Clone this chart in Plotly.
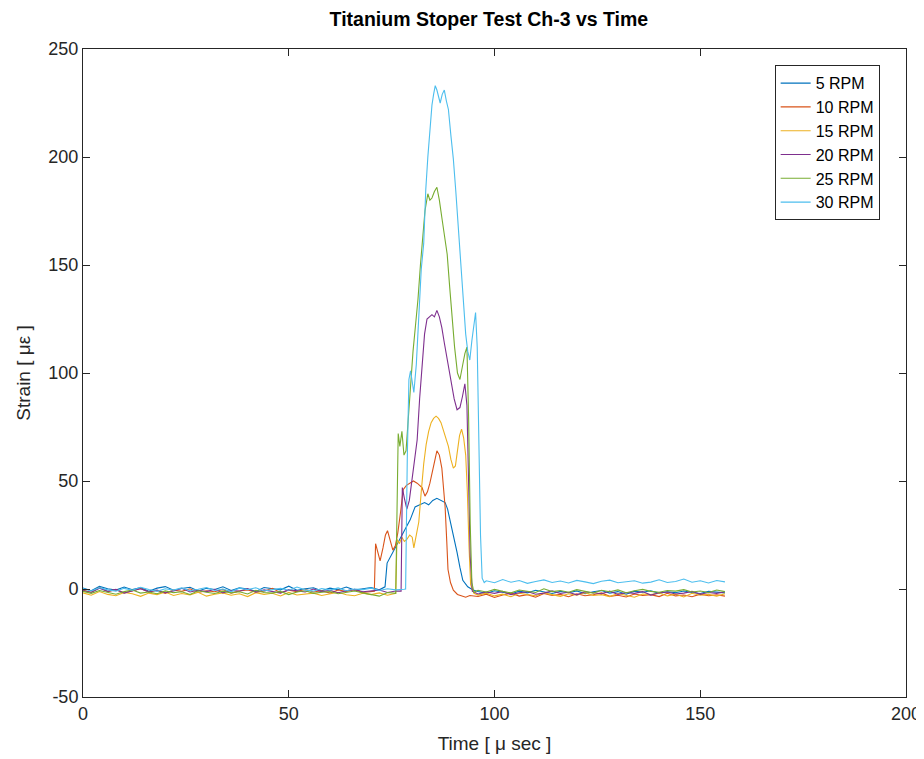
import plotly.graph_objects as go

# ---------------- data ----------------
series_names = ["5 RPM", "10 RPM", "15 RPM", "20 RPM", "25 RPM", "30 RPM"]
series_colors = ["#0072BD", "#D95319", "#EDB120", "#7E2F8E", "#77AC30", "#4DBEEE"]

step = 2.0

# 5 RPM
rpm5_pre = [0.5, -0.8, 1.2, 0.1, -0.5, 0.9, -0.3, 0.6, -1.0, 0.4, 1.1, -0.6, 0.2, 0.8, -0.9, 0.3,
            -0.2, 1.0, -0.7, 0.5, 0.0, -1.1, 0.7, 0.2, -0.4, 1.3, -0.6, 0.1, 0.6, -0.8, 0.4, -0.3,
            0.9, -0.5, 0.2, 0.7, -0.4]
rpm5_peak_t = [73.4, 73.9, 75.0, 76.5, 78.0, 79.5, 80.7, 82.0, 83.0, 84.0, 85.0, 86.0, 87.0, 88.0,
               88.6, 89.2, 90.0, 90.9, 91.6, 92.3, 93.5, 94.8]
rpm5_peak_v = [1, 12, 16, 21, 27, 32, 38, 39, 40, 39, 41, 42, 41, 40, 37, 32, 24, 17, 10, 4, 1, -0.5]
rpm5_post_start = 96
rpm5_post = [-1.2, -2.0, -0.8, -1.6, -2.3, -1.0, -1.8, -0.6, -1.4, -2.1, -1.1, -1.7, -0.9, -2.2,
             -1.3, -0.7, -1.9, -1.2, -2.4, -1.0, -1.5, -0.8, -2.0, -1.3, -1.7, -0.9, -1.6, -2.1,
             -1.1, -1.4, -1.8]

# 10 RPM
rpm10_pre = [-0.6, -1.5, 0.8, -1.2, -0.3, -1.8, -0.9, 0.2, -1.4, -0.7, -2.0, -0.5, -1.1, 0.1,
             -1.6, -0.8, -1.3, -0.2, -1.9, -0.9, -0.4, -1.5, -1.0, 0.3, -1.7, -0.6, -1.2, -0.1,
             -1.4, -0.8, -1.9, -0.5, -1.1, -0.3, -1.6, -1.0]
rpm10_peak_t = [70.8, 71.1, 71.7, 72.2, 72.9, 73.5, 74.0, 74.6, 75.3, 75.9, 76.5, 77.2, 77.8,
                78.6, 79.4, 80.3, 81.2, 82.4, 83.1, 83.7, 84.3, 85.0, 85.6, 86.0, 86.6, 87.2,
                87.6, 88.0, 88.4, 88.7, 89.3, 90.0, 91.0, 92.0, 93.0, 94.0]
rpm10_peak_v = [-1, 21, 16, 13, 19, 25, 27, 23, 18, 20, 26, 36, 46, 48, 49, 50, 49, 47, 43, 45,
                49, 55, 61, 64, 62, 56, 47, 38, 22, 9, 3, -0.5, -2.5, -3.2, -3.8, -3.0]
rpm10_post_start = 96
rpm10_post = [-3.5, -2.4, -3.9, -2.8, -1.9, -3.3, -2.6, -3.8, -2.1, -3.0, -2.5, -3.6, -2.2, -3.1,
              -2.7, -1.8, -3.4, -2.9, -3.7, -2.3, -3.0, -2.6, -3.5, -2.0, -3.2, -2.8, -3.6, -2.4,
              -3.1, -2.7, -3.3]

# 15 RPM
rpm15_pre = [-1.8, -2.9, -1.2, -2.5, -3.1, -1.6, -2.2, -3.4, -1.9, -2.6, -1.4, -3.0, -2.1, -2.7,
             -1.5, -3.3, -2.4, -1.8, -2.9, -2.2, -3.5, -1.7, -2.5, -2.0, -3.2, -1.6, -2.8, -2.3,
             -1.9, -3.0, -2.4, -1.5, -2.7, -3.1, -2.0, -2.6, -1.8, -2.9]
rpm15_peak_t = [76.0, 76.3, 76.9, 77.5, 78.1, 78.7, 79.4, 80.0, 80.4, 81.0, 81.6, 82.2, 82.8,
                83.4, 84.0, 84.6, 85.2, 85.8, 86.4, 87.0, 87.6, 88.2, 88.8, 89.4, 90.0, 90.5,
                91.0, 91.5, 92.0, 92.5, 93.0, 93.4, 93.8, 94.2, 95.0]
rpm15_peak_v = [-2, 23, 21, 24, 22, 23, 25, 24, 19, 25, 31, 45, 58, 67, 73, 77, 79, 80, 79, 77,
                73, 70, 66, 60, 56, 57, 63, 71, 74, 70, 62, 45, 20, 2, -2]
rpm15_post_start = 96
rpm15_post = [-2.8, -1.9, -3.2, -2.4, -3.6, -2.0, -2.7, -3.1, -1.8, -2.5, -3.4, -2.2, -2.9, -1.7,
              -3.0, -2.6, -3.5, -2.1, -2.8, -3.8, -2.3, -2.6, -1.9, -3.2, -2.4, -3.7, -2.0, -2.9,
              -2.5, -3.3, -2.2]

# 20 RPM
rpm20_pre = [-0.7, -1.6, 0.4, -1.1, -0.2, -1.9, -0.8, 0.1, -1.3, -0.5, -1.7, -0.9, 0.3, -1.4,
             -0.6, -1.2, -0.1, -1.8, -0.7, -1.0, 0.2, -1.5, -0.4, -1.1, -1.9, -0.3, -0.9, -1.4,
             0.0, -1.2, -0.6, -1.7, -0.8, -0.2, -1.3, -1.0, -0.5, -1.6, -0.9]
rpm20_peak_t = [77.3, 77.6, 78.1, 78.7, 79.3, 79.9, 80.5, 81.2, 81.8, 82.4, 83.0, 83.6, 84.2,
                84.8, 85.4, 86.0, 86.6, 87.2, 87.8, 88.4, 89.0, 89.6, 90.2, 90.9, 91.6, 92.2,
                92.8, 93.3, 93.7, 94.1, 94.6]
rpm20_peak_v = [-1, 47, 42, 37, 41, 50, 60, 69, 88, 105, 118, 125, 126, 127, 126, 129, 126, 121,
                114, 107, 100, 94, 88, 83, 84, 89, 95, 85, 55, 15, -1]
rpm20_post_start = 96
rpm20_post = [-2.3, -1.4, -2.0, -1.1, -2.6, -1.7, -1.2, -2.4, -1.9, -0.9, -2.1, -1.5, -2.7, -1.3,
              -1.8, -2.2, -1.0, -2.5, -1.6, -2.0, -1.2, -2.8, -1.7, -1.4, -2.3, -1.9, -1.1, -2.4,
              -1.6, -2.0, -1.3]

# 25 RPM
rpm25_pre = [-1.1, -2.0, -0.7, -1.6, -2.4, -1.2, -0.5, -1.9, -1.4, -2.2, -0.9, -1.7, -1.3, -2.5,
             -0.8, -1.5, -2.1, -1.0, -1.8, -1.3, -2.3, -0.6, -1.6, -1.9, -1.1, -2.6, -1.4, -0.8,
             -2.0, -1.5, -1.2, -2.2, -1.7, -0.9, -1.8, -2.4, -3.3, -1.6]
rpm25_peak_t = [76.0, 76.6, 77.0, 77.5, 78.0, 78.5, 79.0, 79.5, 80.2, 80.8, 81.4, 82.0, 82.6,
                83.1, 83.8, 84.3, 84.8, 85.4, 86.0, 86.6, 87.2, 87.8, 88.5, 89.1, 89.7, 90.3,
                91.0, 91.6, 92.2, 92.8, 93.3, 93.7, 94.1, 94.5, 95.0]
rpm25_peak_v = [-2, 72, 66, 73, 62, 64, 78, 95, 110, 122, 134, 150, 165, 175, 183, 180, 181, 184,
                186, 180, 172, 164, 155, 140, 126, 112, 100, 97, 103, 109, 112, 80, 30, 3, -1.5]
rpm25_post_start = 96
rpm25_post = [-0.6, -1.4, -0.2, -1.1, -1.8, -0.5, -0.9, -1.6, 0.1, -1.2, -0.7, -1.5, -0.3, -1.0,
              -1.9, -0.6, -1.3, -0.4, -1.7, -0.8, -0.2, -1.1, -1.5, -0.7, -1.0, -0.3, -1.4, -0.9,
              -1.6, -0.5, -1.2]

# 30 RPM
rpm30_pre = [0.2, -0.9, 0.6, -0.4, -1.0, 0.3, -0.6, 0.8, -0.2, -1.1, 0.1, -0.5, 0.5, -0.8, -0.1,
             0.7, -0.7, 0.0, -1.2, 0.4, -0.3, 0.6, -0.9, -0.2, 0.3, -0.6, 0.9, -0.4, -1.0, 0.2,
             -0.5, 0.5, -0.8, 0.0, -0.3, 0.4, -0.7, 0.1, -0.4, -0.1]
rpm30_peak_t = [78.4, 78.8, 79.2, 79.6, 80.0, 80.4, 81.0, 81.6, 82.2, 82.8, 83.3, 83.8, 84.3,
                84.8, 85.2, 85.6, 86.0, 86.4, 86.8, 87.3, 87.8, 88.3, 88.8, 89.4, 90.0, 90.6,
                91.2, 91.8, 92.4, 93.0, 93.5, 94.0, 94.5, 95.0, 95.4, 95.8, 96.2, 96.6, 97.0, 97.5]
rpm30_peak_v = [0, 60, 97, 101, 95, 91, 104, 128, 148, 160, 185, 200, 214, 224, 229, 233, 231,
                228, 225, 229, 231, 226, 222, 210, 199, 184, 168, 152, 136, 118, 110, 106, 115,
                124, 128, 112, 70, 25, 5, 3]
rpm30_post_start = 98
rpm30_post = [3.8, 2.9, 4.4, 3.1, 3.9, 2.6, 3.5, 4.2, 3.0, 3.7, 2.8, 4.0, 3.3, 2.5, 3.6, 4.1,
              2.9, 3.4, 3.8, 2.7, 3.2, 4.3, 3.0, 3.5, 4.6, 3.1, 3.8, 2.8, 3.9, 3.3]

series = [
    (rpm5_pre, rpm5_peak_t, rpm5_peak_v, rpm5_post_start, rpm5_post),
    (rpm10_pre, rpm10_peak_t, rpm10_peak_v, rpm10_post_start, rpm10_post),
    (rpm15_pre, rpm15_peak_t, rpm15_peak_v, rpm15_post_start, rpm15_post),
    (rpm20_pre, rpm20_peak_t, rpm20_peak_v, rpm20_post_start, rpm20_post),
    (rpm25_pre, rpm25_peak_t, rpm25_peak_v, rpm25_post_start, rpm25_post),
    (rpm30_pre, rpm30_peak_t, rpm30_peak_v, rpm30_post_start, rpm30_post),
]

x_ticks = [0, 50, 100, 150, 200]
x_tick_labels = ["0", "50", "100", "150", "200"]
y_ticks = [-50, 0, 50, 100, 150, 200, 250]
y_tick_labels = ["-50", "0", "50", "100", "150", "200", "250"]

# ---------------- figure ----------------
FONT = "Liberation Sans, Arial, Helvetica, sans-serif"
AX = "#262626"

fig = go.Figure()
for name, color, (pre, pt, pv, ps, post) in zip(series_names, series_colors, series):
    t = [i * step for i in range(len(pre))] + list(pt) + [ps + i * step for i in range(len(post))]
    v = list(pre) + list(pv) + list(post)
    fig.add_trace(go.Scatter(x=t, y=v, mode="lines", name=name,
                             line=dict(color=color, width=1.1), legendgroup=name))

axis_common = dict(showline=True, linecolor=AX, linewidth=1, mirror="ticks",
                   ticks="inside", ticklen=7, tickcolor=AX, showgrid=False, zeroline=False,
                   automargin=False,
                   tickfont=dict(family=FONT, size=18, color=AX))

# page body has an 8px margin, so the figure is sized/margined to compensate
fig.update_layout(
    width=916, height=751,
    paper_bgcolor="white", plot_bgcolor="white",
    margin=dict(l=75, r=18, t=41, b=62),
    title=dict(text="<b>Titanium Stoper Test Ch-3 vs Time</b>", x=0.525, xanchor="center",
               y=0.985, yanchor="middle", font=dict(family=FONT, size=19.5, color="black")),
    xaxis=dict(range=[0, 200], tickvals=x_ticks, ticktext=x_tick_labels,
               title=dict(text="Time [ μ sec ]", font=dict(family=FONT, size=19, color=AX),
                          standoff=14),
               **axis_common),
    yaxis=dict(range=[-50, 250], tickvals=y_ticks, ticktext=y_tick_labels,
               title=dict(text="Strain [ με ]", font=dict(family=FONT, size=19, color=AX),
                          standoff=12),
               **axis_common),
    legend=dict(x=0.968, y=0.975, xanchor="right", yanchor="top",
                bgcolor="white", bordercolor=AX, borderwidth=1,
                font=dict(family=FONT, size=16, color="black"),
                tracegroupgap=0),
    showlegend=True,
)

fig.write_html("out.html")
